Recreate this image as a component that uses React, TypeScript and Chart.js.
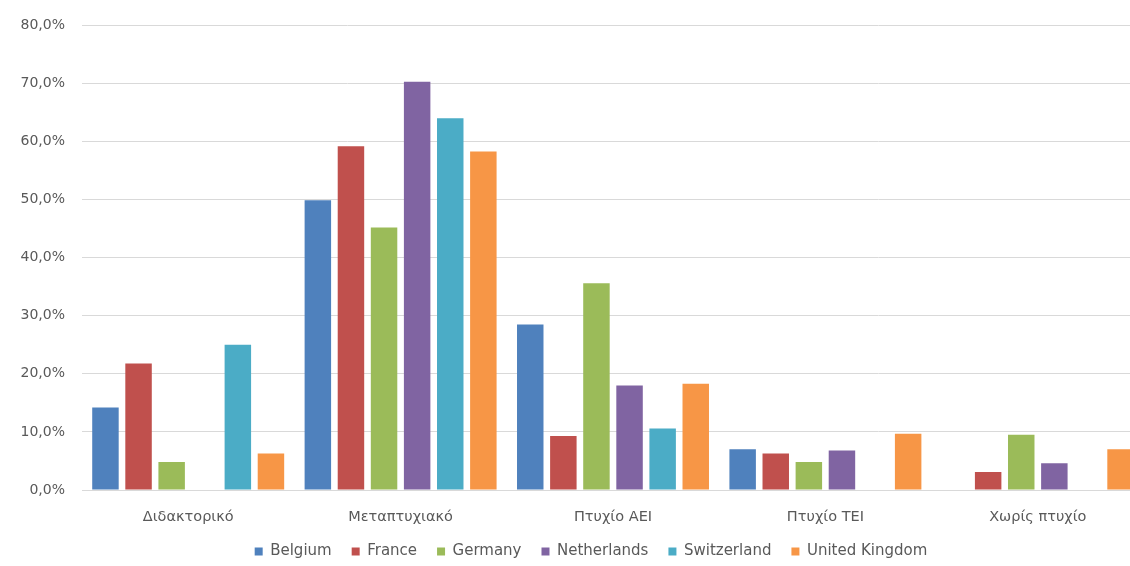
import React, { useEffect, useRef } from "react";
import { Chart, registerables } from "chart.js";

Chart.register(...registerables);

const categories = ["Διδακτορικό", "Μεταπτυχιακό", "Πτυχίο ΑΕΙ", "Πτυχίο ΤΕΙ", "Χωρίς πτυχίο"];

const belgium = [14.2, 49.9, 28.5, 7.0, null];
const france = [21.8, 59.2, 9.3, 6.3, 3.1];
const germany = [4.8, 45.2, 35.6, 4.8, 9.5];
const netherlands = [null, 70.3, 18.0, 6.8, 4.6];
const switzerland = [25.0, 64.0, 10.6, null, null];
const unitedKingdom = [6.3, 58.3, 18.3, 9.7, 7.0];

const seriesNames = ["Belgium", "France", "Germany", "Netherlands", "Switzerland", "United Kingdom"];
const seriesValues = [belgium, france, germany, netherlands, switzerland, unitedKingdom];
const seriesColors = ["#4F81BD", "#C0504D", "#9BBB59", "#8064A2", "#4BACC6", "#F79646"];

const yMin = 0;
const yMax = 80;
const yStep = 10;

const FONT = "'DejaVu Sans', sans-serif";
const TEXT = "#595959";
const GRID = "#d9d9d9";

function fmtPct(v: number): string {
  return v.toFixed(1).replace(".", ",") + "%";
}

const legendShift = {
  id: "legendShift",
  afterLayout(chart: any) {
    const lg = chart.legend;
    if (!lg) return;
    const dx = 19;
    const dy = -5;
    lg.left += dx;
    lg.right += dx;
    lg.top += dy;
    lg.bottom += dy;
  },
};

export default function App() {
  const ref = useRef<HTMLCanvasElement | null>(null);

  useEffect(() => {
    if (!ref.current) return;
    const chart = new Chart(ref.current, {
      type: "bar",
      data: {
        labels: categories,
        datasets: seriesNames.map((name, i) => ({
          label: name,
          data: seriesValues[i],
          backgroundColor: seriesColors[i],
          borderWidth: 0,
          categoryPercentage: 0.935,
          barPercentage: 0.8,
        })),
      },
      plugins: [legendShift],
      options: {
        responsive: false,
        animation: false,
        devicePixelRatio: 1,
        layout: { padding: { top: 24, right: 36, left: 0, bottom: 1 } },
        plugins: {
          tooltip: { enabled: false },
          legend: {
            position: "bottom",
            labels: {
              boxWidth: 8,
              boxHeight: 8,
              padding: 20,
              color: TEXT,
              font: { family: FONT, size: 15 },
            },
          },
        },
        scales: {
          x: {
            grid: { display: false },
            border: { display: true, color: GRID },
            ticks: {
              color: TEXT,
              padding: 11,
              font: { family: FONT, size: 14.5 },
              maxRotation: 0,
            },
            afterFit: (scale: any) => {
              scale.height = 39;
            },
          },
          y: {
            min: yMin,
            max: yMax,
            grid: { color: GRID, drawTicks: false, lineWidth: 1 },
            border: { display: false },
            ticks: {
              stepSize: yStep,
              color: TEXT,
              padding: 17,
              font: { family: FONT, size: 14 },
              callback: (v: any) => fmtPct(Number(v)),
            },
            afterFit: (scale: any) => {
              scale.width = 82;
            },
          },
        },
      },
    });
    return () => chart.destroy();
  }, []);

  return (
    <div
      style={{
        position: "fixed",
        left: 0,
        top: 0,
        width: 1130,
        height: 566,
        overflow: "hidden",
        background: "#fff",
      }}
    >
      <canvas ref={ref} width={1180} height={575} style={{ display: "block" }} />
    </div>
  );
}
